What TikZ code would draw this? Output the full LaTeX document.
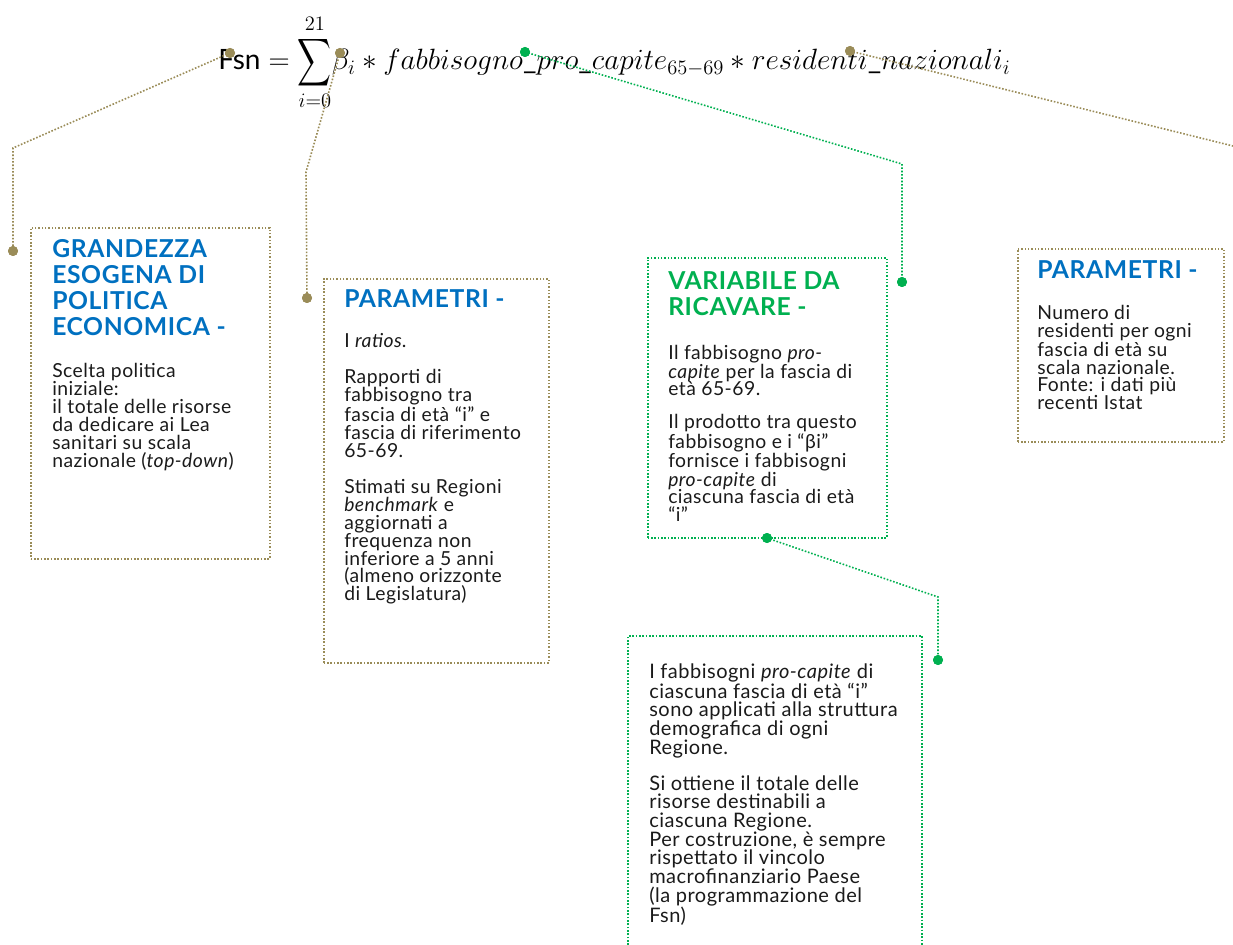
\RequirePackage{fix-cm}
\documentclass[tikz,border=0pt]{standalone}
\usepackage[no-math]{fontspec}
\setmainfont{Lato}
\newfontfamily\bodyfont[LetterSpace=2.5]{Lato}
\usepackage{amsmath}
\definecolor{oliv}{HTML}{9A8C58}
\definecolor{grn}{HTML}{00B050}
\definecolor{blu}{HTML}{0070C0}
\definecolor{txt}{HTML}{1A1A1A}
\newcommand\txtblock[4]{\parbox[t]{#1}{\raggedright\bodyfont\fontsize{#2}{#3}\selectfont #4}}
\newcommand\bigsum{\mathop{\vcenter{\hbox{\scalebox{0.85}[1.2]{$\displaystyle\sum$}}}}\limits}
\tikzset{
  odot/.style={circle, fill=oliv, inner sep=0pt, minimum size=7.5pt},
  gdot/.style={circle, fill=grn, inner sep=0pt, minimum size=7.5pt},
  oline/.style={draw=oliv, line width=1.2pt, dash pattern=on 1.2pt off 1.3pt},
  gline/.style={draw=grn, line width=1.2pt, dash pattern=on 1.2pt off 1.3pt},
  obox/.style={oline, rectangle, anchor=north west, inner sep=0pt},
  gbox/.style={gline, rectangle, anchor=north west, inner sep=0pt},
  lbl/.style={anchor=base west, inner sep=0pt, text=txt},
  ttl/.style={anchor=base west, inner sep=0pt, font=\bfseries},
}
\begin{document}
\begin{tikzpicture}[x=0.75pt,y=-0.75pt]
\useasboundingbox (0,0) rectangle (1233,945);

% formula
\node[lbl, text=black, font=\fontsize{22}{26}\selectfont] (f) at (218,70)
  {$\displaystyle \mbox{\fontsize{21}{25}\selectfont Fsn} = \bigsum_{i=0}^{21}\! \beta_i * fabbisogno\_pro\_capite_{65-69} * residenti\_nazionali_i$};

% boxes
\node[obox, minimum width={239*0.75pt}, minimum height={331*0.75pt}] (b1) at (30,227) {};
\node[obox, minimum width={225*0.75pt}, minimum height={384*0.75pt}] (b2) at (323,278) {};
\node[gbox, minimum width={239*0.75pt}, minimum height={280*0.75pt}] (b3) at (647,257) {};
\node[obox, minimum width={206*0.75pt}, minimum height={193*0.75pt}] (b4) at (1017,248) {};
\coordinate (b5bl) at (628,945);
\coordinate (b5tl) at (628,636);
\coordinate (b5tr) at (922,636);
\coordinate (b5br) at (922,945);
\draw[gline] (b5bl) -- (b5tl) -- (b5tr) -- (b5br);

% titles
\node[ttl, text=blu] (t1) at (52,258)
  {\txtblock{220pt}{18.5}{19.5}{\bfseries GRANDEZZA\\ESOGENA DI\\POLITICA\\ECONOMICA -}};
\node[ttl, text=blu] (t2) at (344,308)
  {\txtblock{200pt}{18.5}{19.5}{\bfseries PARAMETRI -}};
\node[ttl, text=grn] (t3) at (668,290)
  {\txtblock{200pt}{18.5}{19.5}{\bfseries VARIABILE DA\\RICAVARE -}};
\node[ttl, text=blu] (t4) at (1037,279)
  {\txtblock{200pt}{18.5}{19.5}{\bfseries PARAMETRI -}};

% body texts
\node[lbl] (x1) at (52,378)
  {\txtblock{200pt}{14.5}{13.4}{Scelta politica\\iniziale:\\il totale delle risorse\\da dedicare ai Lea\\sanitari su scala\\nazionale (\textit{top-down})}};
\node[lbl] (x2) at (344,348)
  {\txtblock{200pt}{14.5}{13.4}{I \textit{ratios}.\\[13.5pt]Rapporti di\\fabbisogno tra\\fascia di età “i” e\\fascia di riferimento\\65-69.\\[14pt]Stimati su Regioni\\\textit{benchmark} e\\aggiornati a\\frequenza non\\inferiore a 5 anni\\(almeno orizzonte\\di Legislatura)}};
\node[lbl] (x3) at (668,359)
  {\txtblock{200pt}{14.5}{13.2}{Il fabbisogno \textit{pro-}\\\textit{capite} per la fascia di\\età 65-69.\\[11.5pt]Il prodotto tra questo\\fabbisogno e i “βi”\\fornisce i fabbisogni\\\textit{pro-capite} di\\ciascuna fascia di età\\“i”}};
\node[lbl] (x4) at (1037,320)
  {\txtblock{200pt}{14.5}{13.2}{Numero di\\residenti per ogni\\fascia di età su\\scala nazionale.\\Fonte: i dati più\\recenti Istat}};
\node[lbl] (x5) at (649,678)
  {\txtblock{240pt}{15}{14}{I fabbisogni \textit{pro-capite} di\\ciascuna fascia di età “i”\\sono applicati alla struttura\\demografica di ogni\\Regione.\\[13pt]Si ottiene il totale delle\\risorse destinabili a\\ciascuna Regione.\\Per costruzione, è sempre\\rispettato il vincolo\\macrofinanziario Paese\\(la programmazione del\\Fsn)}};

% connector corners
\coordinate (k1) at (13,148);
\coordinate (k2) at (306,172);
\coordinate (k3) at (902,164);
\coordinate (k4) at (1233,146);
\coordinate (k5) at (938,597);

% dots
\node[odot] (dF) at (230,53) {};
\node[odot] (dBeta) at (340,53) {};
\node[gdot] (dPro) at (525,52) {};
\node[odot] (dRes) at (850,51) {};
\node[odot] (d1) at (13,251) {};
\node[odot] (d2) at (307,298) {};
\node[gdot] (d3) at (902,282) {};
\node[gdot] (d3b) at (767,538) {};
\node[gdot] (d5) at (938,660) {};

% connectors
\draw[oline] (dF.center) -- (k1) -- (d1.center);
\draw[oline] (dBeta.center) -- (k2) -- (d2.center);
\draw[gline] (dPro.center) -- (k3) -- (d3.center);
\draw[oline] (dRes.center) -- (k4);
\draw[gline] (d3b.center) -- (k5) -- (d5.center);

% redraw dots on top
\foreach \n/\c in {dF/oliv,dBeta/oliv,dRes/oliv,d1/oliv,d2/oliv,dPro/grn,d3/grn,d3b/grn,d5/grn}
  \fill[\c] (\n) circle (3.75pt);
\end{tikzpicture}
\end{document}
